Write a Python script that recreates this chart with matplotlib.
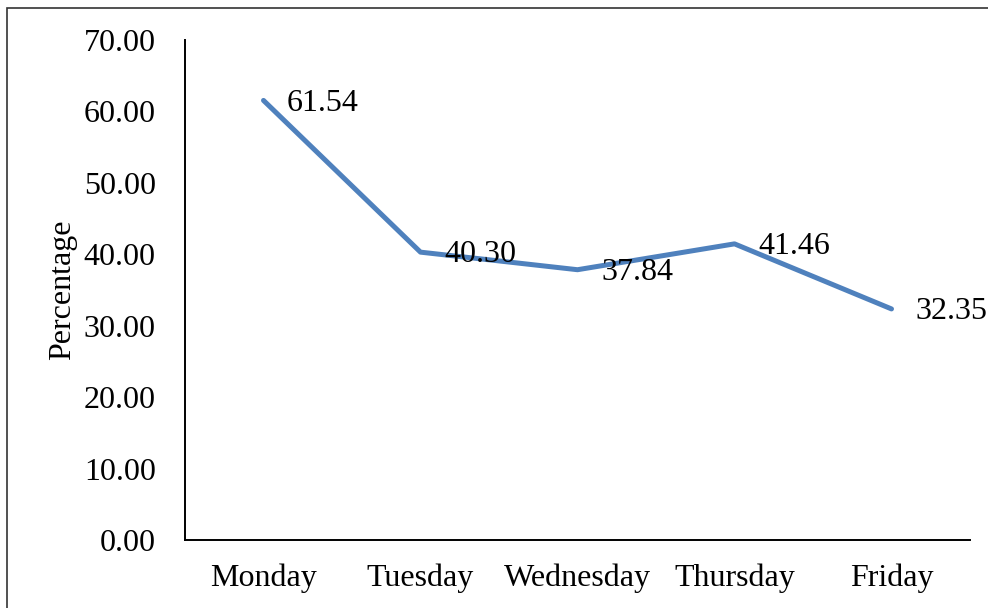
import matplotlib.pyplot as plt
from matplotlib.patches import Rectangle

plt.rcParams['font.family'] = ['Liberation Serif', 'DejaVu Serif']

days = ['Monday', 'Tuesday', 'Wednesday', 'Thursday', 'Friday']
percent = [61.54, 40.30, 37.84, 41.46, 32.35]
yticks = [0, 10, 20, 30, 40, 50, 60, 70]

fig = plt.figure(figsize=(9.88, 6.08), dpi=100)
ax = fig.add_axes([185 / 988, 68 / 608, 785 / 988, 500 / 608])

x = list(range(len(days)))
ax.plot(x, percent, color='#4F81BD', linewidth=3.6, solid_capstyle='round')

for xi, v in zip(x, percent):
    ax.annotate(f'{v:.2f}', (xi, v), xytext=(17, -2), textcoords='offset points',
                ha='left', va='center', fontsize=23)

ax.set_xlim(-0.5, 4.5)
ax.set_ylim(0, 70)
ax.set_xticks(x)
ax.set_xticklabels(days)
ax.set_yticks(yticks)
ax.set_yticklabels([f'{t:.2f}' for t in yticks])
ax.tick_params(length=0, labelsize=23, pad=21)
ax.tick_params(axis='x', pad=17)
for s in ['top', 'right']:
    ax.spines[s].set_visible(False)
for s in ['left', 'bottom']:
    ax.spines[s].set_linewidth(1.4)
ax.set_ylabel('Percentage', fontsize=23, labelpad=5)

fig.patches.append(Rectangle((7 / 988, -0.05), 1, 600 / 608 + 0.05, transform=fig.transFigure,
                             fill=False, edgecolor='#333333', linewidth=1.2))

fig.savefig('out.png', dpi=100)
